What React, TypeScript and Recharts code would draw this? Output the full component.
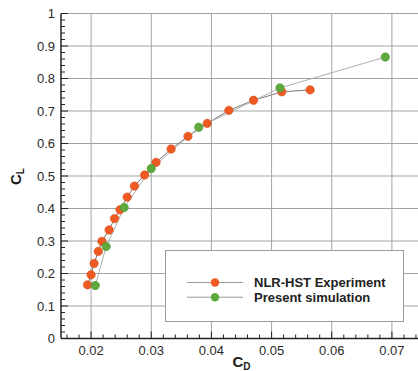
import { CartesianGrid, Legend, Line, LineChart, XAxis, YAxis } from 'recharts';

// drag polar (CD, CL)
const expCD = [0.0194, 0.0200, 0.0205, 0.0212, 0.0218, 0.0230, 0.0239, 0.0248, 0.0260, 0.0272, 0.0289, 0.0308, 0.0333, 0.0361, 0.0393, 0.0429, 0.0470, 0.0517, 0.0564];
const expCL = [0.165, 0.196, 0.231, 0.268, 0.299, 0.334, 0.369, 0.396, 0.435, 0.469, 0.503, 0.542, 0.583, 0.622, 0.662, 0.702, 0.733, 0.759, 0.765];
const simCD = [0.0207, 0.0225, 0.0255, 0.0300, 0.0379, 0.0514, 0.0689];
const simCL = [0.163, 0.283, 0.403, 0.523, 0.650, 0.771, 0.866];

const xMajor = [0.02, 0.03, 0.04, 0.05, 0.06, 0.07];
const yMajor = [0, 0.1, 0.2, 0.3, 0.4, 0.5, 0.6, 0.7, 0.8, 0.9, 1];
const xLabels = ['0.02', '0.03', '0.04', '0.05', '0.06', '0.07'];
const yLabels = ['0', '0.1', '0.2', '0.3', '0.4', '0.5', '0.6', '0.7', '0.8', '0.9', '1'];

const expData = expCD.map((cd, i) => ({ cd, cl: expCL[i] }));
const simData = simCD.map((cd, i) => ({ cd, cl: simCL[i] }));

// minor ticks every 0.002 on x, 0.02 on y
const xTicks = Array.from({ length: 30 }, (_, i) => +(0.016 + i * 0.002).toFixed(3));
const yTicks = Array.from({ length: 51 }, (_, i) => +(i * 0.02).toFixed(2));

const colors = { 'NLR-HST Experiment': '#ef5a22', 'Present simulation': '#5ea83e' };
const font = '"Liberation Sans", Arial, sans-serif';

function XTick({ x, y, payload }) {
  const idx = xMajor.findIndex(v => Math.abs(v - payload.value) < 1e-6);
  const major = idx >= 0;
  return (
    <g>
      <line x1={x} x2={x} y1={y} y2={y - (major ? 7 : 4)} stroke="#222" strokeWidth={1} />
      {major && (
        <text x={x} y={y + 16} textAnchor="middle" fontSize={13} fill="#2a2a2a" fontFamily={font}>
          {xLabels[idx]}
        </text>
      )}
    </g>
  );
}

function YTick({ x, y, payload }) {
  const idx = yMajor.findIndex(v => Math.abs(v - payload.value) < 1e-6);
  const major = idx >= 0;
  return (
    <g>
      <line x1={x} x2={x + (major ? 7 : 4)} y1={y} y2={y} stroke="#222" strokeWidth={1} />
      {major && (
        <text x={x - 6} y={y + 4.5} textAnchor="end" fontSize={13} fill="#2a2a2a" fontFamily={font}>
          {yLabels[idx]}
        </text>
      )}
    </g>
  );
}

function LegendBox({ payload }) {
  return (
    <svg width={238} height={71} style={{ display: 'block' }}>
      {(payload || []).map((entry, i) => {
        const cy = 31.5 + i * 14.7;
        return (
          <g key={entry.value}>
            <line x1={21} x2={77} y1={cy} y2={cy} stroke="#9a9a9a" strokeWidth={1} />
            <circle cx={49} cy={cy} r={4.2} fill={colors[entry.value]} />
            <text x={88} y={cy + 4.5} fontSize={13} fontWeight="bold" fill="#222" fontFamily={font}>
              {entry.value}
            </text>
          </g>
        );
      })}
    </svg>
  );
}

export default function App() {
  return (
    <div style={{ position: 'fixed', left: 0, top: 0, width: 418, height: 371, overflow: 'hidden', background: '#fff' }}>
      <LineChart width={424} height={371} margin={{ top: 13.5, right: 2, bottom: 0, left: 0 }}>
        <CartesianGrid stroke="#a3a3a3" strokeWidth={1} horizontalValues={yMajor.slice(1)} verticalValues={xMajor} />
        <XAxis
          dataKey="cd"
          type="number"
          domain={[0.015, 0.075]}
          ticks={xTicks}
          interval={0}
          height={32.5}
          tickLine={false}
          tickSize={0}
          tickMargin={0}
          axisLine={{ stroke: '#222', strokeWidth: 1.5 }}
          tick={(p) => <XTick {...p} />}
          label={({ viewBox }) => (
            <text x={viewBox.x + viewBox.width / 2} y={viewBox.y + 28} textAnchor="middle" fontSize={15} fontWeight="bold" fill="#1a1a1a" fontFamily={font}>
              C<tspan fontSize={10} dy={3}>D</tspan>
            </text>
          )}
        />
        <YAxis
          type="number"
          domain={[0, 1]}
          ticks={yTicks}
          interval={0}
          width={61}
          tickLine={false}
          tickSize={0}
          tickMargin={0}
          axisLine={{ stroke: '#222', strokeWidth: 1.5 }}
          tick={(p) => <YTick {...p} />}
          label={({ viewBox }) => {
            const tx = viewBox.x + 20.5;
            const ty = viewBox.y + viewBox.height / 2 + 9;
            return (
              <text x={tx} y={ty} transform={`rotate(-90, ${tx}, ${ty})`} fontSize={15} fontWeight="bold" fill="#1a1a1a" fontFamily={font}>
                C<tspan fontSize={10} dy={3}>L</tspan>
              </text>
            );
          }}
        />
        <Legend
          verticalAlign="middle"
          align="center"
          layout="horizontal"
          content={(p) => <LegendBox payload={p.payload} />}
          wrapperStyle={{ left: 165, top: 250, width: 239, height: 72, border: '1px solid #9c9c9c', background: '#fff', boxSizing: 'border-box' }}
        />
        <Line
          name="NLR-HST Experiment"
          data={expData}
          dataKey="cl"
          stroke="#7a7a7a"
          strokeWidth={1}
          dot={{ r: 4.2, fill: colors['NLR-HST Experiment'], stroke: '#d24b1a', strokeWidth: 0.6 }}
          activeDot={false}
          isAnimationActive={false}
        />
        <Line
          name="Present simulation"
          data={simData}
          dataKey="cl"
          stroke="#b0b0b0"
          strokeWidth={1}
          dot={{ r: 4.2, fill: colors['Present simulation'], stroke: '#4f9433', strokeWidth: 0.6 }}
          activeDot={false}
          isAnimationActive={false}
        />
      </LineChart>
    </div>
  );
}
